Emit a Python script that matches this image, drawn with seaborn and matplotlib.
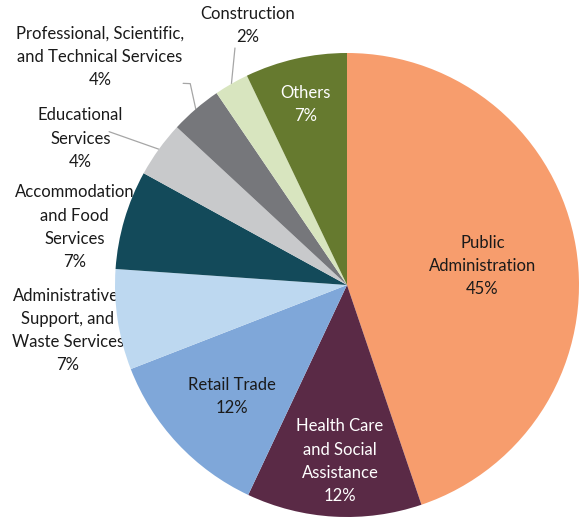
import numpy as np
import matplotlib.pyplot as plt
import seaborn as sns

# share of employment by sector, clockwise from 12 o'clock
sectors = ["Public\nAdministration", "Health Care\nand Social\nAssistance", "Retail Trade",
           "Administrative,\nSupport, and\nWaste Services", "Accommodation\nand Food\nServices",
           "Educational\nServices", "Professional, Scientific,\nand Technical Services",
           "Construction", "Others"]
shares = [44.8, 12.2, 12.1, 7.0, 6.9, 3.9, 3.6, 2.4, 7.1]
pct_labels = ["45%", "12%", "12%", "7%", "7%", "4%", "4%", "2%", "7%"]

colors = ["#F79D6D", "#5A2A46", "#7FA7D9", "#BDD8F0", "#134A5A",
          "#C8C9CB", "#76777B", "#D8E5BF", "#667A2F"]
text_colors = ["#1a1a1a", "white", "#1a1a1a", "#1a1a1a", "#1a1a1a",
               "#1a1a1a", "#1a1a1a", "#1a1a1a", "white"]

# label layout: (angle in degrees, distance as fraction of radius)
label_pos = [(8.0, 0.59), (-92.3, 0.76), (-136.0, 0.69), (189.3, 1.22), (168.0, 1.20),
             (151.2, 1.31), (137.3, 1.45), (111.0, 1.20), (103.0, 0.80)]
# leader lines: index -> points (angle, r) after the wedge edge point
leaders = {5: [(147.2, 1.22)], 6: [(127.9, 1.10), (129.1, 1.12)], 7: [(115.3, 1.13)]}

sns.set_theme(style="white")
plt.rcParams['font.family'] = ['Lato', 'DejaVu Sans']

fig = plt.figure(figsize=(5.79, 5.17), dpi=100)
ax = fig.add_axes([0, 0, 1, 1])
cx, cy, R = 347, 232, 232

wedges, _ = ax.pie(shares, colors=colors, startangle=90, counterclock=False,
                   center=(cx, cy), radius=R, wedgeprops=dict(linewidth=0, zorder=2))

for i, w in enumerate(wedges):
    ang, r = label_pos[i]
    tx = cx + r * R * np.cos(np.radians(ang))
    ty = cy + r * R * np.sin(np.radians(ang))
    z = 3 if r < 1 else 1
    ax.text(tx, ty, sectors[i] + "\n" + pct_labels[i], ha="center", va="center",
            fontsize=12, color=text_colors[i], linespacing=1.55, zorder=z)
    if i in leaders:
        mid = (w.theta1 + w.theta2) / 2
        pts = [(mid, 1.0)] + leaders[i]
        xs = [cx + rr * R * np.cos(np.radians(a)) for a, rr in pts]
        ys = [cy + rr * R * np.sin(np.radians(a)) for a, rr in pts]
        ax.plot(xs, ys, color="#A6A6A6", linewidth=0.9, zorder=1)

ax.set_xlim(0, 579)
ax.set_ylim(0, 517)
ax.set_aspect("equal")
ax.axis("off")

fig.savefig("out.png", dpi=100)
